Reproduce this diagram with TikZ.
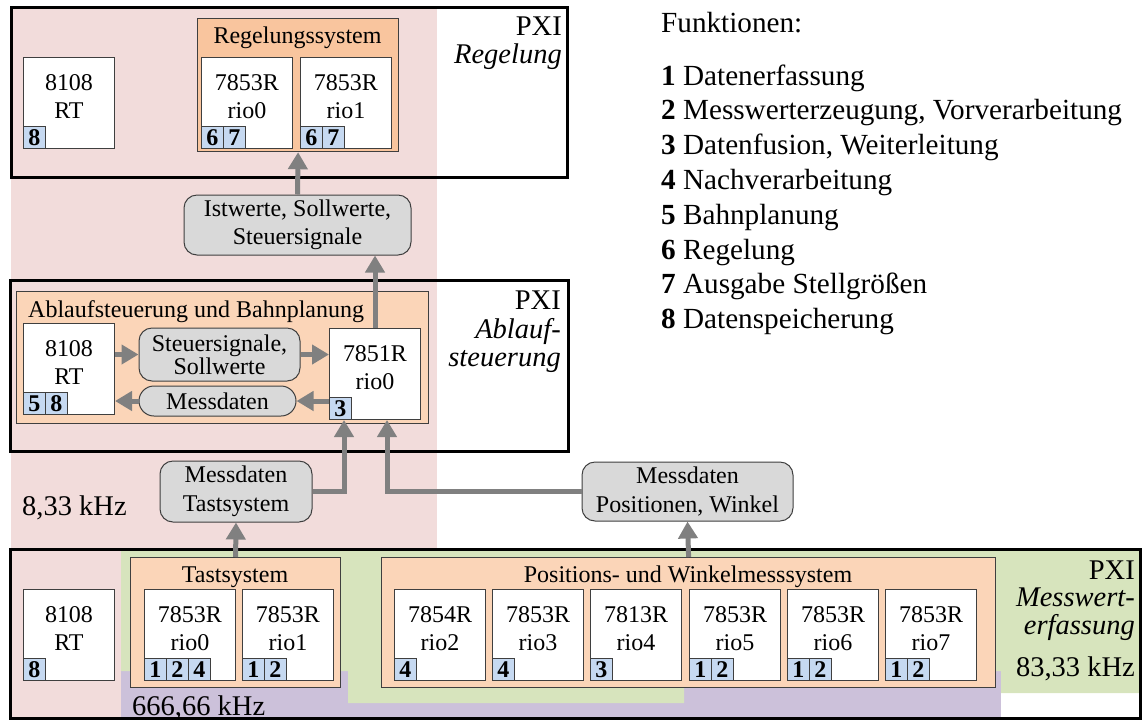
\documentclass[tikz,border=0pt]{standalone}
\usepackage{fontspec}
\setmainfont{Liberation Serif}
\usetikzlibrary{arrows.meta,calc}
\definecolor{pinkbg}{HTML}{F2DCDB}
\definecolor{greenbg}{HTML}{D7E4BD}
\definecolor{purplebg}{HTML}{CCC1DA}
\definecolor{orgA}{HTML}{F9C59E}
\definecolor{orgB}{HTML}{FBD5B8}
\definecolor{badgeblue}{HTML}{C6D9F1}
\definecolor{msggray}{HTML}{D9D9D9}
\definecolor{flowgray}{HTML}{808080}
\definecolor{edgegray}{HTML}{3F3F3F}
\newcommand\fBig{\fontsize{28.5}{33}\selectfont}
\newcommand\fLeg{\fontsize{29.2}{34}\selectfont}
\newcommand\fBox{\fontsize{24}{28.5}\selectfont}
\tikzset{
 pxiframe/.style={draw=black, line width=3pt},
 grpbox/.style={draw=edgegray, line width=1.2pt, fill=orgB, inner sep=0pt},
 compnode/.style={draw=edgegray, line width=1pt, fill=white, minimum width=91pt, minimum height=91pt, inner sep=0pt},
 comptext/.style={font=\fBox, inner sep=0pt, anchor=base},
 badgenode/.style={draw=edgegray, line width=0.8pt, fill=badgeblue, minimum size=22pt, inner sep=0pt, font=\fBox\bfseries},
 msgbox/.style={draw=edgegray, line width=1pt, fill=msggray, rounded corners=13pt, align=center, font=\fBox, inner sep=0pt},
 flow/.style={draw=flowgray, line width=5pt, -{Triangle[length=17pt,width=19pt]}},
 lbl/.style={font=\fBig, inner sep=0pt},
 leg/.style={font=\fLeg, inner sep=0pt, anchor=base west},
}
\newcommand\compbox[6]{%
 \node[compnode, anchor=north west] (#1) at (#2,#3) {};
 \node[comptext] (#1-l1) at ($(#1.north)+(0,33.5)$) {#4};
 \node[comptext] (#1-l2) at ($(#1.north)+(0,61.5)$) {#5};
 \foreach \b [count=\i from 0] in {#6} {
   \node[badgenode, anchor=south west] (#1-b\i) at ($(#1.south west)+(22*\i,0)$) {\b};
 }
}
\begin{document}
\begin{tikzpicture}[x=1pt,y=-1pt]
\useasboundingbox (0,0) rectangle (1146,724);
% background domains
\fill[pinkbg] (11,7) rectangle (437,718);
\fill[purplebg] (121,671) rectangle (1001,718);
\fill[greenbg] (121,549) -- (1140,549) -- (1140,693) -- (1001,693) -- (1001,671) -- (684,671) -- (684,703) -- (348,703) -- (348,671) -- (121,671) -- cycle;
% PXI frames
\draw[pxiframe] (11,7) rectangle (567,177);
\draw[pxiframe] (10,280) rectangle (568,451);
\draw[pxiframe] (10,549) rectangle (1140,718);
% top: Regelung
\node[grpbox, fill=orgA, minimum width=201pt, minimum height=133pt, anchor=north west] (regsys) at (197,18) {};
\node[comptext] (regsys-t) at (297.5,43) {Regelungssystem};
\compbox{rtA}{23}{57}{8108}{RT}{8}
\compbox{rA0}{201}{57}{7853R}{rio0}{6,7}
\compbox{rA1}{300}{57}{7853R}{rio1}{6,7}
% middle: Ablaufsteuerung
\node[grpbox, minimum width=412pt, minimum height=132pt, anchor=north west] (abl) at (16,291) {};
\node[comptext, anchor=base west] (abl-t) at (28,317) {Ablaufsteuerung und Bahnplanung};
\compbox{rtB}{23}{323}{8108}{RT}{5,8}
\compbox{rB}{329}{328}{7851R}{rio0}{3}
\node[msgbox, minimum width=161pt, minimum height=53pt, font=\fontsize{24}{21}\selectfont] (st) at (219.5,354.5) {Steuersignale,\\Sollwerte};
\node[msgbox, minimum width=157pt, minimum height=30pt, rounded corners=15pt] (md) at (217.5,401) {Messdaten};
\node[msgbox, minimum width=227pt, minimum height=60pt] (ist) at (297.5,225) {Istwerte, Sollwerte,\\Steuersignale};
% bottom: Messwerterfassung
\node[grpbox, minimum width=210pt, minimum height=130pt, anchor=north west] (tast) at (130,557) {};
\node[comptext] (tast-t) at (235,582) {Tastsystem};
\compbox{rtC}{23}{589}{8108}{RT}{8}
\compbox{rC0}{144}{589}{7853R}{rio0}{1,2,4}
\compbox{rC1}{242}{589}{7853R}{rio1}{1,2}
\node[grpbox, minimum width=614pt, minimum height=130pt, anchor=north west] (pos) at (381,557) {};
\node[comptext] (pos-t) at (688,582) {Positions- und Winkelmesssystem};
\compbox{rC2}{394}{589}{7854R}{rio2}{4}
\compbox{rC3}{492}{589}{7853R}{rio3}{4}
\compbox{rC4}{590}{589}{7813R}{rio4}{3}
\compbox{rC5}{689}{589}{7853R}{rio5}{1,2}
\compbox{rC6}{787}{589}{7853R}{rio6}{1,2}
\compbox{rC7}{885}{589}{7853R}{rio7}{1,2}
\node[msgbox, minimum width=152pt, minimum height=61pt] (mt) at (236,491.5) {Messdaten\\Tastsystem};
\node[msgbox, minimum width=211pt, minimum height=59pt] (mp) at (687.5,491.5) {Messdaten\\Positionen, Winkel};
% flows
\draw[flow] (ist.north) -- (regsys.south);
\draw[flow] (rB.north) -- (rB.north |- ist.south);
\draw[flow] (rtB.east |- st.west) -- (st.west);
\draw[flow] (st.east) -- (st.east -| rB.west);
\draw[flow] (rB.west |- md.east) -- (md.east);
\draw[flow] (md.west) -- (md.west -| rtB.east);
\coordinate (inA) at ($(rB.south west)+(15,0)$);
\coordinate (inB) at ($(rB.south west)+(58,0)$);
\draw[flow] (mt.east) -| (inA);
\draw[flow] (mp.west) -| (inB);
\draw[flow] (tast.north) -- (mt.south);
\draw[flow] (pos.north) -- (mp.south);
% frame labels
\node[lbl, anchor=base east] (pxA) at (562,35) {PXI};
\node[lbl, anchor=base east] (pxAi) at (562,63) {\itshape Regelung};
\node[lbl, anchor=base east] (pxB) at (561,309) {PXI};
\node[lbl, anchor=base east] (pxBi) at (561,338) {\itshape Ablauf-};
\node[lbl, anchor=base east] (pxBj) at (561,366) {\itshape steuerung};
\node[lbl, anchor=base east] (pxC) at (1135,579) {PXI};
\node[lbl, anchor=base east] (pxCi) at (1135,606) {\itshape Messwert-};
\node[lbl, anchor=base east] (pxCj) at (1135,634) {\itshape erfassung};
\node[lbl, anchor=base east] (fC) at (1135,676) {83,33 kHz};
\node[lbl, anchor=base west] (fA) at (22,515) {8,33 kHz};
\node[lbl, anchor=base west] (fB) at (132,715) {666,66 kHz};
% legend
\node[leg] (fun) at (661,32) {Funktionen:};
\node[leg] (f1) at (661,85) {\textbf{1} Datenerfassung};
\node[leg] (f2) at (661,119.8) {\textbf{2} Messwerterzeugung, Vorverarbeitung};
\node[leg] (f3) at (661,154.6) {\textbf{3} Datenfusion, Weiterleitung};
\node[leg] (f4) at (661,189.4) {\textbf{4} Nachverarbeitung};
\node[leg] (f5) at (661,224.2) {\textbf{5} Bahnplanung};
\node[leg] (f6) at (661,259) {\textbf{6} Regelung};
\node[leg] (f7) at (661,293.8) {\textbf{7} Ausgabe Stellgrößen};
\node[leg] (f8) at (661,328.6) {\textbf{8} Datenspeicherung};
\end{tikzpicture}
\end{document}
